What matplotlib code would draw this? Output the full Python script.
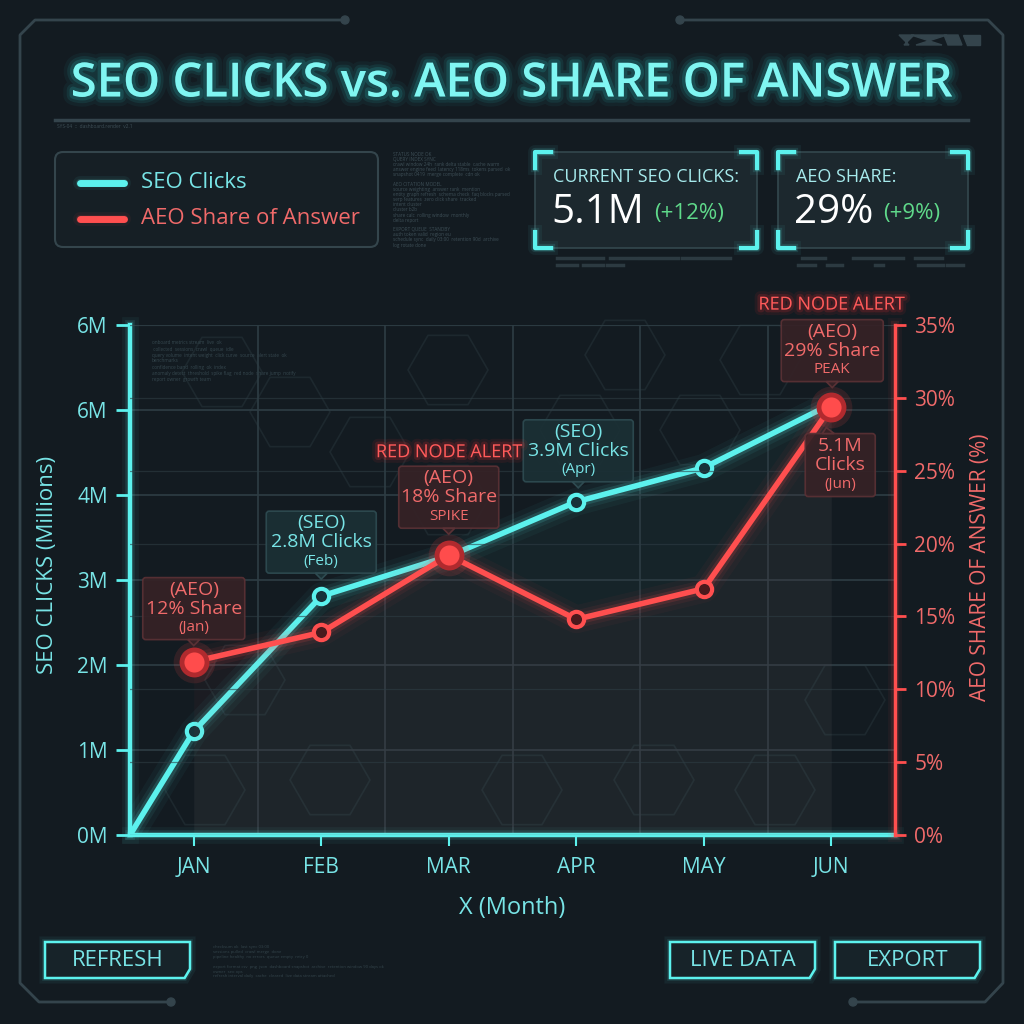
import numpy as np
import matplotlib
matplotlib.use('Agg')
import matplotlib.pyplot as plt
import matplotlib.patheffects as pe
from matplotlib.patches import FancyBboxPatch, Polygon, RegularPolygon, Circle
from matplotlib.lines import Line2D

# ---- data ----
months = ['JAN', 'FEB', 'MAR', 'APR', 'MAY', 'JUN']
seo_clicks = [1.22, 2.81, 3.28, 3.92, 4.32, 5.07]   # millions
aeo_share = [11.9, 13.9, 19.2, 14.8, 16.9, 29.4]    # percent
seo_origin = (-0.5, 0.0)                             # line starts at the corner
left_ticks = [0, 1, 2, 3, 4, 5, 6]
left_tick_labels = ['0M', '1M', '2M', '3M', '4M', '6M', '6M']
right_ticks = [0, 5, 10, 15, 20, 25, 30, 35]
alert_nodes = [0, 2, 5]          # big red AEO nodes

# ---- style ----
BG = '#131b21'
CYAN = '#5cf2ee'
CYAN_TXT = '#78e4e6'
RED = '#ff4f4f'
RED_TXT = '#f06a6a'
GRID = '#2e3d44'
FRAME = '#34444c'
FAINT = '#3e4f57'
plt.rcParams['font.family'] = ['Open Sans', 'DejaVu Sans']

W = H = 1024
fig = plt.figure(figsize=(W / 100, H / 100), dpi=100, facecolor=BG)

# background / decoration layer in pixel coords (y down)
deco = fig.add_axes([0, 0, 1, 1], zorder=0)
deco.set_xlim(0, W)
deco.set_ylim(H, 0)
deco.axis('off')
deco.set_facecolor(BG)


def glow(color, widths=((10, 0.06), (6, 0.12), (3.5, 0.2))):
    fx = [pe.Stroke(linewidth=w, foreground=color, alpha=a) for w, a in widths]
    return fx + [pe.Normal()]


# --- HUD frame ---
deco.plot([345, 35, 20, 20, 39, 171], [20, 20, 35, 983, 1002, 1002], color=FRAME, lw=2)
deco.plot([680, 988, 1003, 1003, 985, 853], [20, 20, 35, 983, 1002, 1002], color=FRAME, lw=2)
for px, py in [(345, 20), (680, 20), (171, 1002), (853, 1002)]:
    deco.add_patch(Circle((px, py), 4, color=FRAME))
for xs in [(899, 909, 914, 904), (911, 942, 947, 916)]:
    deco.add_patch(Polygon([(xs[0], 35), (xs[2], 35), (xs[3], 45), (xs[1], 45)], color=FRAME))
deco.add_patch(Polygon([(944, 35), (958, 35), (962, 45), (948, 45)], color=FRAME))
deco.add_patch(Polygon([(963, 35), (980, 35), (980, 45), (967, 45)], color=FRAME))

# title
deco.text(512, 84, 'SEO CLICKS vs. AEO SHARE OF ANSWER', fontsize=34, fontweight='semibold',
          color='#80f6f2', ha='center', va='center',
          path_effects=glow('#2fd8d8', ((14, 0.05), (9, 0.09), (5, 0.15))))
deco.plot([55, 968], [120, 120], color=FRAME, lw=2.5)
deco.text(57, 126, 'SYS-04  ::  dashboard.render  v2.1', fontsize=3.5, color=FAINT, va='center')

# legend panel
deco.add_patch(FancyBboxPatch((55, 152), 323, 95, boxstyle='round,pad=0,rounding_size=8',
                              fc='#161f25', ec='#34454c', lw=1.5))
deco.add_line(Line2D([80, 124], [183, 183], color=CYAN, lw=5, solid_capstyle='round',
                     path_effects=glow(CYAN)))
deco.add_line(Line2D([80, 124], [219, 219], color=RED, lw=5, solid_capstyle='round',
                     path_effects=glow(RED)))
deco.text(141, 183, 'SEO Clicks', fontsize=16, color=CYAN_TXT, va='center')
deco.text(141, 219, 'AEO Share of Answer', fontsize=16, color=RED_TXT, va='center')

# filler telemetry text
filler = [
    ['STATUS NODE OK', 'QUERY INDEX SYNC', 'crawl window 24h  rank delta stable  cache warm',
     'answer engine feed  latency 118ms  tokens parsed  ok', 'snapshot 0419  merge complete  cdn ok'],
    ['AEO CITATION MODEL', 'source weighting  answer rank  mention', 'entity graph refresh  schema check  faq blocks parsed',
     'serp features  zero click share  tracked', 'intent cluster', 'cluster b2b', 'share calc  rolling window  monthly',
     'delta report'],
    ['EXPORT QUEUE  STANDBY', 'auth token valid  region eu', 'schedule sync  daily 03:00  retention 90d  archive',
     'log rotate done'],
]
fy = 154
for block in filler:
    for line in block:
        deco.text(393, fy, line, fontsize=3.3, color=FAINT, va='center')
        fy += 5.2
    fy += 4


# KPI cards
def kpi_card(x0, y0, x1, y1, label, value, delta):
    deco.add_patch(FancyBboxPatch((x0, y0), x1 - x0, y1 - y0, boxstyle='round,pad=0,rounding_size=6',
                                  fc='#1c282e', ec='#33484e', lw=1.2))
    L = 16
    for cx, cy, sx, sy in [(x0, y0, 1, 1), (x1, y0, -1, 1), (x0, y1, 1, -1), (x1, y1, -1, -1)]:
        deco.add_line(Line2D([cx + sx * L, cx, cx], [cy, cy, cy + sy * L], color=CYAN, lw=3,
                             solid_joinstyle='round', path_effects=glow(CYAN)))
    deco.text(x0 + 18, 177, label, fontsize=13, color='#a6eaec', va='center')
    t = deco.text(x0 + 16, 213, value, fontsize=29, color='white', va='center')
    fig.canvas.draw()
    bb = t.get_window_extent()
    deco.text(bb.x1 + 10, 214, delta, fontsize=16, color='#5fd98a', va='center')


kpi_card(535, 152, 757, 248, 'CURRENT SEO CLICKS:', '5.1M', '(+12%)')
kpi_card(778, 152, 968, 248, 'AEO SHARE:', '29%', '(+9%)')
for (a, b, y) in [(557, 603, 258), (610, 637, 258), (640, 678, 258), (682, 730, 258),
                  (557, 577, 265), (583, 603, 265), (607, 623, 265),
                  (802, 825, 258), (853, 903, 258), (915, 942, 258),
                  (798, 815, 265), (827, 842, 265), (875, 883, 265), (918, 943, 265), (947, 963, 265)]:
    deco.plot([a, b], [y, y], color='#2c3a41', lw=2.5)

# faint hexagons behind the plot
hexes = [(222, 372), (290, 412), (448, 370), (370, 452), (448, 500), (625, 355), (580, 430),
         (760, 360), (700, 430), (245, 680), (330, 780), (522, 790), (654, 780), (845, 700),
         (205, 790), (775, 790)]
for hx, hy in hexes:
    deco.add_patch(RegularPolygon((hx, hy), 6, radius=40, orientation=np.pi / 6,
                                  fill=False, ec='#1d282e', lw=1.2))
ptxt = ['onboard metrics stream  live  ok', ' collected  sessions  crawl  queue  idle',
        'query volume  intent weight  click curve  source  alert state  ok',
        'benchmarks', 'confidence band  rolling  ok  index',
        'anomaly detect  threshold  spike flag  red node  share jump  notify',
        'report owner  growth team']
for k, line in enumerate(ptxt):
    deco.text(152, 343 + k * 6, line, fontsize=3.3, color='#36484f', va='center')

# ---- main chart ----
ax = fig.add_axes([130 / W, 1 - 835 / H, 765 / W, 510 / H], zorder=2)
ax.patch.set_alpha(0)
ax.set_xlim(-0.5, 5.5)
ax.set_ylim(0, 6)
ax2 = ax.twinx()
ax2.set_zorder(3)
ax2.patch.set_visible(False)
ax2.set_ylim(0, 35)

x = np.arange(len(months))

# grid
ax.set_xticks(x)
ax.set_xticklabels(months)
ax.set_xticks(x[:-1] + 0.5, minor=True)
ax.grid(which='minor', axis='x', color=GRID, lw=1.2)
ax.grid(which='major', axis='y', color=GRID, lw=1.2)
ax.grid(which='major', axis='x', visible=False)
ax2.set_yticks(right_ticks)
ax2.set_yticklabels([f'{v}%' for v in right_ticks])
ax2.grid(axis='y', color=GRID, lw=0.9, alpha=0.6)
ax.set_yticks(left_ticks)
ax.set_yticklabels(left_tick_labels)

# spines & ticks
for s in ['top', 'right']:
    ax.spines[s].set_visible(False)
for s in ['top', 'left', 'bottom']:
    ax2.spines[s].set_visible(False)
for s in ['left', 'bottom']:
    ax.spines[s].set_color(CYAN)
    ax.spines[s].set_linewidth(3)
    ax.spines[s].set_path_effects(glow(CYAN, ((12, 0.05), (7, 0.1), (4.5, 0.18))))
ax2.spines['right'].set_color(RED)
ax2.spines['right'].set_linewidth(2.5)
ax2.spines['right'].set_path_effects(glow(RED, ((10, 0.05), (6, 0.1))))
ax.tick_params(axis='y', colors=CYAN, labelcolor=CYAN_TXT, length=10, width=2, labelsize=15, pad=6)
ax.tick_params(axis='x', colors=CYAN, labelcolor=CYAN_TXT, length=8, width=1.5, labelsize=15, pad=8)
ax.tick_params(which='minor', length=0)
ax2.tick_params(axis='y', colors=RED, labelcolor=RED_TXT, length=8, width=2, labelsize=15, pad=6)

ax.set_ylabel('SEO CLICKS (Millions)', color=CYAN_TXT, fontsize=16)
ax.yaxis.set_label_coords(-0.094, 0.53)
ax2.set_ylabel('AEO SHARE OF ANSWER (%)', color=RED_TXT, fontsize=15, rotation=90)
ax2.yaxis.set_label_coords(1.098, 0.525)
ax.set_xlabel('X (Month)', color=CYAN_TXT, fontsize=17)
ax.xaxis.set_label_coords(0.5, -0.12)

# fills
ax.fill_between(x, seo_clicks, 0, color=CYAN, alpha=0.045, lw=0)
ax2.fill_between(x, aeo_share, 0, color=RED, alpha=0.035, lw=0)


def glow_line(a, xs, ys, color, lw):
    for w, al in [(lw * 5, 0.04), (lw * 3.2, 0.07), (lw * 2, 0.14)]:
        a.plot(xs, ys, color=color, lw=w, alpha=al, solid_capstyle='round', zorder=3)
    a.plot(xs, ys, color=color, lw=lw, solid_capstyle='round', zorder=4)


seo_x = np.concatenate([[seo_origin[0]], x])
seo_y = np.concatenate([[seo_origin[1]], seo_clicks])
glow_line(ax, seo_x, seo_y, CYAN, 4)
ax.plot(x, seo_clicks, 'o', ms=11, mfc='#17333a', mec=CYAN, mew=3, zorder=5)

glow_line(ax2, x, aeo_share, RED, 4)
small = [i for i in x if i not in alert_nodes]
ax2.plot(small, [aeo_share[i] for i in small], 'o', ms=11, mfc='#4a1a1d', mec=RED, mew=3, zorder=5)
big_y = [aeo_share[i] for i in alert_nodes]
ax2.plot(alert_nodes, big_y, 'o', ms=30, color=RED, alpha=0.13, mew=0, zorder=5)
ax2.plot(alert_nodes, big_y, 'o', ms=18, mfc='#ff4c4c', mec='#b02a2e', mew=3.5, zorder=6)

# ---- callouts (top layer, pixel coords) ----
top = fig.add_axes([0, 0, 1, 1], zorder=10)
top.set_xlim(0, W)
top.set_ylim(H, 0)
top.axis('off')
top.patch.set_visible(False)


def to_px(a, xv, yv):
    dx, dy = a.transData.transform((xv, yv))
    return dx, H - dy


SEO_BOX = ('#1b3035', '#2e4b51', CYAN_TXT)
AEO_BOX = ('#362226', '#5a3135', RED_TXT)


def callout(a, i, vals, lines, style, dy, dx=0, w=102, h=62, up=True):
    face, edge, tc = style
    px, py = to_px(a, i, vals[i])
    cx, cy = px + dx, py - dy
    top.add_patch(FancyBboxPatch((cx - w / 2, cy - h / 2), w, h, boxstyle='round,pad=0,rounding_size=3',
                                 fc=face, ec=edge, lw=1.2, alpha=0.92))
    if up:
        top.add_patch(Polygon([(cx - 6, cy + h / 2), (cx + 6, cy + h / 2), (cx, cy + h / 2 + 6)],
                              fc=face, ec=edge, lw=1.2))
    else:
        top.add_patch(Polygon([(cx - 18, cy - h / 2), (cx - 6, cy - h / 2), (cx - 14, cy - h / 2 - 6)],
                              fc=face, ec=edge, lw=1.2))
    sizes = [14, 14, 11]
    for k, (t, s) in enumerate(zip(lines, sizes)):
        top.text(cx, cy - 19 + k * 19, t, fontsize=s, color=tc, ha='center', va='center')
    return cx, cy


def alert(a, i, vals, dy):
    px, py = to_px(a, i, vals[i])
    top.text(px, py - dy, 'RED NODE ALERT', fontsize=13, color='#ff5a5a', ha='center', va='center',
             path_effects=glow('#ff3030', ((8, 0.08), (4, 0.15))))


callout(ax2, 0, aeo_share, ['(AEO)', '12% Share', '(Jan)'], AEO_BOX, 53)
callout(ax, 1, seo_clicks, ['(SEO)', '2.8M Clicks', '(Feb)'], SEO_BOX, 54, w=110)
callout(ax2, 2, aeo_share, ['(AEO)', '18% Share', 'SPIKE'], AEO_BOX, 58, w=100)
alert(ax2, 2, aeo_share, 103)
callout(ax, 3, seo_clicks, ['(SEO)', '3.9M Clicks', '(Apr)'], SEO_BOX, 51, dx=2, w=110)
callout(ax2, 5, aeo_share, ['(AEO)', '29% Share', 'PEAK'], AEO_BOX, 56, dx=1, w=102)
alert(ax2, 5, aeo_share, 102)
callout(ax, 5, seo_clicks, ['5.1M', 'Clicks', '(Jun)'], AEO_BOX, -61, dx=9, w=70, h=63, up=False)


# ---- buttons ----
def button(x0, y0, x1, y1, label):
    c = 9
    pts = [(x0, y0), (x1, y0), (x1, y1 - c), (x1 - c * 0.6, y1), (x0, y1)]
    top.add_patch(Polygon(pts, closed=True, fc='#172329', ec=CYAN, lw=1.8,
                          path_effects=glow(CYAN, ((8, 0.06), (4, 0.12)))))
    top.text((x0 + x1) / 2, (y0 + y1) / 2 + 1, label, fontsize=16, color=CYAN_TXT,
             ha='center', va='center')


button(45, 942, 190, 978, 'REFRESH')
button(670, 942, 815, 978, 'LIVE DATA')
button(835, 942, 980, 978, 'EXPORT')
btxt = ['checksum ok  last sync 03:00', 'sessions pulled  crawl merge  done', 'pipeline healthy  no errors  queue empty  retry 0',
        '', 'export format csv  png  json  dashboard snapshot  archive  retention window 90 days ok', 'owner  seo ops',
        'refresh interval daily  cache  cleared  live data stream attached']
for k, line in enumerate(btxt):
    top.text(213, 947 + k * 4.9, line, fontsize=3, color='#34454c', va='center')

fig.savefig('out.png', dpi=100, facecolor=BG)
